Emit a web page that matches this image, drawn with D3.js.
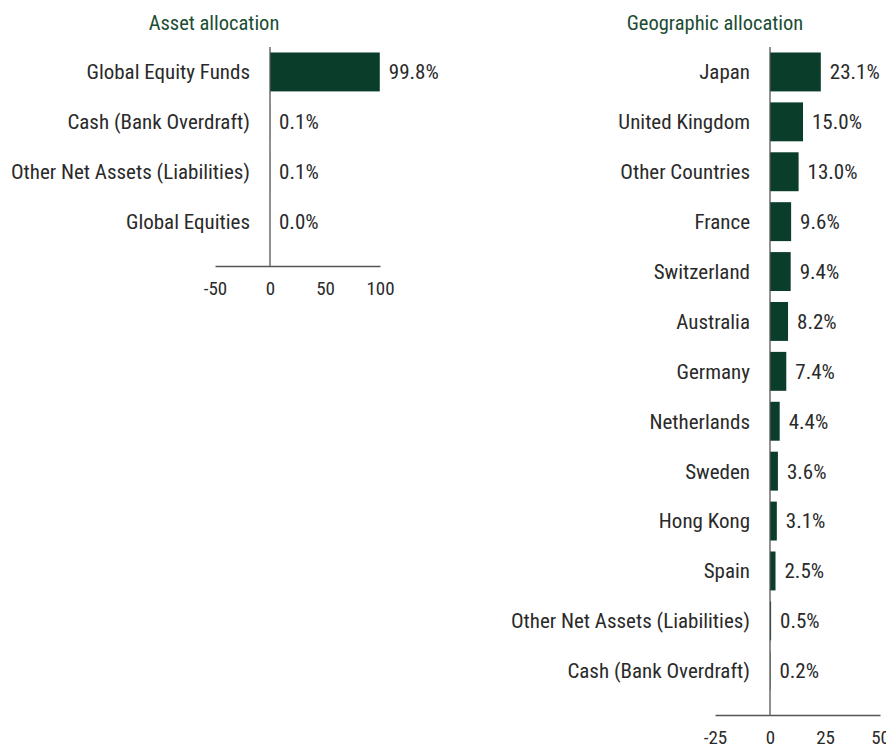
<!DOCTYPE html>
<html>
<head>
<meta charset="utf-8">
<script src="https://cdn.jsdelivr.net/npm/d3@7"></script>
<style>
  body { margin: 0; background: #fff; }
  svg text { font-family: "Liberation Sans Narrow", "Arial Narrow", "Roboto Condensed", Roboto, sans-serif; }
</style>
</head>
<body>
<div id="chart"></div>
<script>
// data
var assetNames = ["Global Equity Funds", "Cash (Bank Overdraft)", "Other Net Assets (Liabilities)", "Global Equities"];
var assetValues = [99.8, 0.1, 0.1, 0.0];
var assetTicks = [-50, 0, 50, 100];

var geoNames = ["Japan", "United Kingdom", "Other Countries", "France", "Switzerland", "Australia",
  "Germany", "Netherlands", "Sweden", "Hong Kong", "Spain", "Other Net Assets (Liabilities)", "Cash (Bank Overdraft)"];
var geoValues = [23.1, 15.0, 13.0, 9.6, 9.4, 8.2, 7.4, 4.4, 3.6, 3.1, 2.5, 0.5, 0.2];
var geoTicks = [-25, 0, 25, 50];

var width = 886, height = 749;
var barColor = "#0b3d2b", titleColor = "#1b4d33", textColor = "#2a2a2a";

var svg = d3.select("#chart").append("svg")
  .attr("width", width)
  .attr("height", height);

function panel(opts) {
  var g = svg.append("g");

  var x = d3.scaleLinear().domain(opts.domain).range(opts.xRange);
  var y = d3.scaleBand().domain(opts.names)
    .range([47, 47 + opts.names.length * 49.9])
    .paddingInner(0.22).paddingOuter(0.11);

  // title
  g.append("text")
    .attr("x", opts.titleX).attr("y", 30)
    .attr("text-anchor", "middle")
    .attr("fill", titleColor)
    .style("font-size", "20.5px")
    .text(opts.title);

  // bars
  g.selectAll("rect.bar")
    .data(opts.values)
    .enter().append("rect")
    .attr("class", "bar")
    .attr("x", function(d) { return x(Math.min(0, d)); })
    .attr("y", function(d, i) { return y(opts.names[i]); })
    .attr("width", function(d) { return Math.abs(x(d) - x(0)); })
    .attr("height", y.bandwidth())
    .attr("fill", barColor);

  // category labels
  g.selectAll("text.cat")
    .data(opts.names)
    .enter().append("text")
    .attr("class", "cat")
    .attr("x", x(0) - 20)
    .attr("y", function(d) { return y(d) + y.bandwidth() / 2; })
    .attr("dy", "0.35em")
    .attr("text-anchor", "end")
    .attr("fill", textColor)
    .style("font-size", "21px")
    .text(function(d) { return d; });

  // value labels
  g.selectAll("text.val")
    .data(opts.values)
    .enter().append("text")
    .attr("class", "val")
    .attr("x", function(d) { return x(Math.max(0, d)) + 9; })
    .attr("y", function(d, i) { return y(opts.names[i]) + y.bandwidth() / 2; })
    .attr("dy", "0.35em")
    .attr("fill", textColor)
    .style("font-size", "21px")
    .text(function(d) { return d.toFixed(1) + "%"; });

  // x axis
  var axisY = opts.axisY;
  var axis = g.append("g")
    .attr("transform", "translate(0," + axisY + ")")
    .call(d3.axisBottom(x).tickValues(opts.ticks).tickSize(0).tickPadding(16)
      .tickFormat(function(d) { return String(d); }));
  axis.select(".domain").attr("stroke", "#555").attr("stroke-width", 1.3);
  axis.selectAll("text")
    .attr("fill", textColor)
    .style("font-size", "19px");

  // zero line
  g.append("line")
    .attr("x1", x(0)).attr("x2", x(0))
    .attr("y1", 47).attr("y2", axisY)
    .attr("stroke", "#555")
    .attr("stroke-width", 1.3);
}

panel({
  title: "Asset allocation", titleX: 214,
  names: assetNames, values: assetValues, ticks: assetTicks,
  domain: [-50, 100], xRange: [215, 380], axisY: 266
});

panel({
  title: "Geographic allocation", titleX: 715,
  names: geoNames, values: geoValues, ticks: geoTicks,
  domain: [-25, 50], xRange: [715, 880], axisY: 715
});
</script>
</body>
</html>
